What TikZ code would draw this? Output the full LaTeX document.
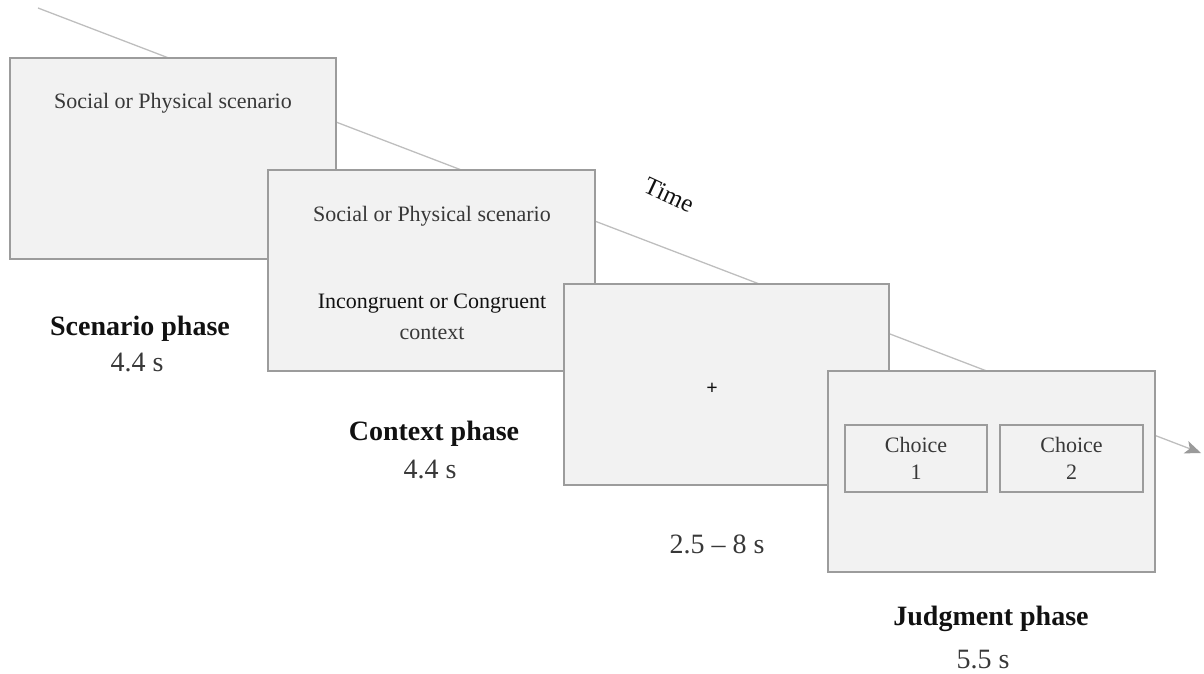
\documentclass[tikz,border=0pt]{standalone}
\usepackage{fontspec}
\setmainfont{Liberation Serif}
\usetikzlibrary{arrows.meta}
\definecolor{scrfill}{HTML}{F2F2F2}
\definecolor{scrline}{HTML}{9C9C9C}
\definecolor{tline}{HTML}{BEBEBE}
\definecolor{tiptone}{HTML}{9A9A9A}
\definecolor{graytext}{HTML}{383838}
\definecolor{darktext}{HTML}{111111}
\tikzset{
  screen/.style={draw=scrline, fill=scrfill, line width=1.5pt, rectangle, inner sep=0pt, outer sep=0pt, anchor=north west},
  choicebox/.style={draw=scrline, fill=scrfill, line width=1.5pt, rectangle, inner sep=0pt, outer sep=0pt, anchor=north west, align=center, font=\fontsize{22}{27}\selectfont, text=graytext},
  intext/.style={anchor=base, inner sep=0pt, font=\fontsize{22}{26}\selectfont, text=graytext},
  phaselabel/.style={anchor=base, inner sep=0pt, font=\fontsize{28}{32}\selectfont\bfseries, text=darktext},
  durlabel/.style={anchor=base, inner sep=0pt, font=\fontsize{28}{32}\selectfont, text=graytext},
  timeline/.style={draw=tline, line width=1.3pt, -{Stealth[length=16pt,width=13pt,inset=4pt,color=tiptone]}}
}
\begin{document}
\begin{tikzpicture}[x=1pt,y=-1pt]
\useasboundingbox (0,0) rectangle (1204,674);
% time axis
\coordinate (ts) at (38,8);
\coordinate (te) at (1201,453);
\draw[timeline] (ts) -- (te);
\node[rotate=-25, inner sep=0pt, font=\fontsize{25}{28}\selectfont, text=darktext] (time) at (669,195) {Time};
% screens
\node[screen, minimum width=326pt, minimum height=201pt] (s1) at (10,58) {};
\node[intext] (s1t) at (173,109) {Social or Physical scenario};
\node[screen, minimum width=327pt, minimum height=201pt] (s2) at (268,170) {};
\node[intext] (s2t) at (432,221) {Social or Physical scenario};
\node[intext, text=darktext] (s2c1) at (432,308) {Incongruent or Congruent};
\node[intext] (s2c2) at (432,339) {context};
\node[screen, minimum width=325pt, minimum height=201pt] (s3) at (564,284) {};
\node[inner sep=0pt, font=\fontsize{20}{24}\selectfont\bfseries, text=darktext] (fix) at (712,389) {+};
\node[screen, minimum width=327pt, minimum height=201pt] (s4) at (828,371) {};
\node[choicebox, minimum width=142pt, minimum height=67pt] (c1) at (845,425) {Choice\\1};
\node[choicebox, minimum width=143pt, minimum height=67pt] (c2) at (1000,425) {Choice\\2};
% labels
\node[phaselabel] (l1) at (140,335) {Scenario phase};
\node[durlabel] (d1) at (137,371) {4.4 s};
\node[phaselabel] (l2) at (434,440) {Context phase};
\node[durlabel] (d2) at (430,478) {4.4 s};
\node[durlabel] (d3) at (717,553) {2.5 -- 8 s};
\node[phaselabel] (l4) at (991,625) {Judgment phase};
\node[durlabel] (d4) at (983,668) {5.5 s};
\end{tikzpicture}
\end{document}
